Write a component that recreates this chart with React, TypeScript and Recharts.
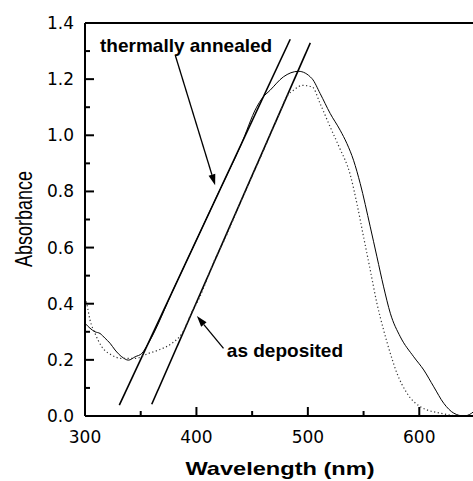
import React from 'react';
import { LineChart, Line, XAxis, YAxis, ReferenceLine, ReferenceDot, Label } from 'recharts';

// thermally annealed (solid)
const annealedX = [300, 309, 313.5, 318, 322.5, 327, 333, 339, 345, 351, 357, 380, 400, 420, 440, 454, 459, 466, 478, 491.6, 503.7, 511, 520, 529, 535, 541, 547, 556, 562, 568, 574, 583, 595, 604, 613, 622, 631, 640, 647, 650];
const annealedY = [0.330, 0.300, 0.294, 0.277, 0.259, 0.235, 0.211, 0.199, 0.211, 0.223, 0.260, 0.457, 0.627, 0.797, 0.966, 1.100, 1.132, 1.160, 1.208, 1.228, 1.202, 1.149, 1.078, 1.018, 0.971, 0.911, 0.828, 0.674, 0.567, 0.460, 0.366, 0.282, 0.211, 0.164, 0.104, 0.045, 0.010, 0.0, 0.010, 0.02];

// as deposited (dotted)
const depositedX = [300, 301.5, 304.5, 309, 315, 324, 333, 345, 357, 366, 378, 387, 396, 402, 409, 416, 424, 440, 460, 475, 481, 488, 495, 504, 511, 520, 528, 538, 544, 550, 556, 562, 568, 574, 580, 589, 601, 619, 637, 650];
const depositedY = [0.42, 0.401, 0.342, 0.294, 0.247, 0.217, 0.205, 0.205, 0.223, 0.235, 0.259, 0.294, 0.371, 0.415, 0.482, 0.553, 0.618, 0.765, 0.945, 1.083, 1.137, 1.163, 1.178, 1.172, 1.113, 1.030, 0.959, 0.860, 0.757, 0.638, 0.520, 0.401, 0.306, 0.223, 0.152, 0.081, 0.033, 0.010, 0.0, 0.0];

// tangent lines
const tangent1X = [330.8, 484.2];
const tangent1Y = [0.039, 1.342];
const tangent2X = [359.9, 502.2];
const tangent2Y = [0.042, 1.329];

// annotation arrows: [start, tip]
const annealedArrowX = [381, 416.8];
const annealedArrowY = [1.285, 0.822];
const depositedArrowX = [424.3, 400.4];
const depositedArrowY = [0.241, 0.356];

// annotation text anchors
const annealedLabel = { x: 313.5, y: 1.297, text: 'thermally annealed' };
const depositedLabel = { x: 427.3, y: 0.209, text: 'as deposited' };

const xTicks = [300, 350, 400, 450, 500, 550, 600, 650];
const yTicks = [0, 0.1, 0.2, 0.3, 0.4, 0.5, 0.6, 0.7, 0.8, 0.9, 1.0, 1.1, 1.2, 1.3, 1.4];

const zip = (xs: number[], ys: number[]) => xs.map((x, i) => ({ x, y: ys[i] }));

const annealed = zip(annealedX, annealedY);
const deposited = zip(depositedX, depositedY);
const tangent1 = zip(tangent1X, tangent1Y);
const tangent2 = zip(tangent2X, tangent2Y);
const arrow1 = zip(annealedArrowX, annealedArrowY);
const arrow2 = zip(depositedArrowX, depositedArrowY);

const YTick = (props: any) => {
  const { x, y, payload } = props;
  const v = payload.value as number;
  const major = Math.round(v * 10) % 2 === 0;
  return (
    <g>
      <line x1={x} y1={y} x2={x + (major ? 9 : 5)} y2={y} stroke="#000" strokeWidth={2} />
      {major && (
        <text x={x - 11} y={y + 6} textAnchor="end" fontFamily="DejaVu Sans" fontSize={17} fill="#000">
          {v.toFixed(1)}
        </text>
      )}
    </g>
  );
};

const XTick = (props: any) => {
  const { x, y, payload } = props;
  const v = payload.value as number;
  const major = v % 100 === 0;
  return (
    <g>
      <line x1={x} y1={y} x2={x} y2={y - (major ? 9 : 5)} stroke="#000" strokeWidth={2} />
      {major && (
        <text x={x} y={y + 27} textAnchor="middle" fontFamily="DejaVu Sans" fontSize={17} fill="#000">
          {v}
        </text>
      )}
    </g>
  );
};

const ArrowShape = (props: any) => {
  const { x1, y1, x2, y2 } = props;
  if ([x1, y1, x2, y2].some((v) => typeof v !== 'number' || isNaN(v))) return null;
  const dx = x2 - x1;
  const dy = y2 - y1;
  const len = Math.sqrt(dx * dx + dy * dy);
  const ux = dx / len;
  const uy = dy / len;
  const hl = 11;
  const hw = 3.5;
  const bx = x2 - ux * hl;
  const by = y2 - uy * hl;
  const px = -uy;
  const py = ux;
  return (
    <g>
      <line x1={x1} y1={y1} x2={bx} y2={by} stroke="#000" strokeWidth={1.3} />
      <polygon
        points={`${x2},${y2} ${bx + px * hw},${by + py * hw} ${bx - px * hw},${by - py * hw}`}
        fill="#000"
      />
    </g>
  );
};

const makeTextShape = (text: string) => (props: any) => {
  const { cx, cy } = props;
  return (
    <text x={cx} y={cy} fontFamily="Liberation Sans, Arial, sans-serif" fontWeight="bold" fontSize={19} fill="#000">
      {text}
    </text>
  );
};

export default function App() {
  return (
    <div style={{ position: 'absolute', left: 0, top: 0, width: 473, height: 481, overflow: 'hidden', background: '#fff' }}>
      <LineChart width={480} height={481} margin={{ top: 23, right: 5, bottom: 5, left: 0 }}>
        <XAxis
          dataKey="x"
          type="number"
          domain={[300, 650]}
          allowDataOverflow
          ticks={xTicks}
          tick={<XTick />}
          tickLine={false}
          tickSize={0}
          tickMargin={0}
          axisLine={{ stroke: '#000', strokeWidth: 2 }}
          height={60}
          interval={0}
        >
          <Label
            content={() => (
              <text
                transform="translate(280,475) scale(1.35,1)"
                x={0}
                y={0}
                textAnchor="middle"
                fontFamily="Liberation Sans, Arial, sans-serif"
                fontWeight="bold"
                fontSize={17.5}
                fill="#000"
              >
                Wavelength (nm)
              </text>
            )}
          />
        </XAxis>
        <YAxis
          type="number"
          domain={[0, 1.4]}
          allowDataOverflow
          ticks={yTicks}
          tick={<YTick />}
          tickLine={false}
          tickSize={0}
          tickMargin={0}
          axisLine={{ stroke: '#000', strokeWidth: 2 }}
          width={85}
          interval={0}
        >
          <Label
            content={() => (
              <text
                transform="translate(31.5,219) scale(1.3,1) rotate(-90)"
                x={0}
                y={0}
                textAnchor="middle"
                fontFamily="Liberation Sans, Arial, sans-serif"
                fontSize={18}
                fill="#000"
              >
                Absorbance
              </text>
            )}
          />
        </YAxis>
        <ReferenceLine y={1.4} stroke="#000" strokeWidth={2} />
        <ReferenceLine x={650} stroke="#000" strokeWidth={2} />
        <Line data={tangent1} dataKey="y" type="linear" stroke="#000" strokeWidth={1.6} dot={false} isAnimationActive={false} />
        <Line data={tangent2} dataKey="y" type="linear" stroke="#000" strokeWidth={1.6} dot={false} isAnimationActive={false} />
        <Line data={annealed} dataKey="y" type="monotone" stroke="#000" strokeWidth={1} dot={false} isAnimationActive={false} />
        <Line
          data={deposited}
          dataKey="y"
          type="monotone"
          stroke="#333"
          strokeWidth={1.2}
          strokeDasharray="1.2 2.5"
          dot={false}
          isAnimationActive={false}
        />
        <ReferenceLine segment={arrow1} shape={ArrowShape} ifOverflow="visible" />
        <ReferenceLine segment={arrow2} shape={ArrowShape} ifOverflow="visible" />
        <ReferenceDot x={annealedLabel.x} y={annealedLabel.y} r={0} shape={makeTextShape(annealedLabel.text)} ifOverflow="visible" />
        <ReferenceDot x={depositedLabel.x} y={depositedLabel.y} r={0} shape={makeTextShape(depositedLabel.text)} ifOverflow="visible" />
      </LineChart>
    </div>
  );
}
